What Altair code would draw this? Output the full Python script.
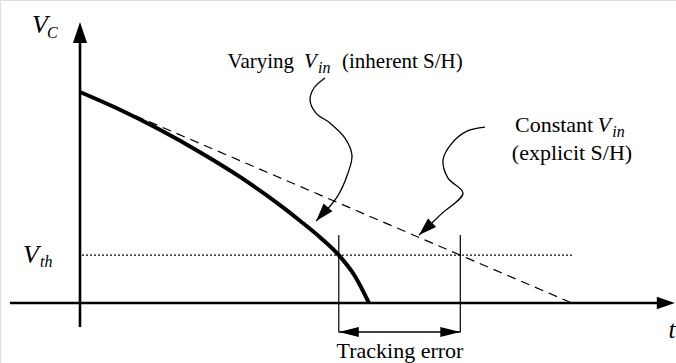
import math
import altair as alt
import pandas as pd

# ---- diagram values (time t in ramp units, capacitor voltage V normalised to V0) ----
T_MIN, T_MAX = -1.626, 12.114
V_MIN, V_MAX = -0.284, 1.436
W, H = 676, 363

V0 = 1.0          # starting capacitor voltage
T_END = 10.0      # constant-input ramp reaches zero here
V_TH = 0.227      # comparator threshold

# constant input: straight ramp
ramp_t = [0.0, T_END]
ramp_v = [V0, 0.0]

# varying input: discharge accelerates
curve_t = [0.0, 0.813, 1.626, 2.439, 3.252, 4.065, 4.472, 4.878, 5.264, 5.589, 5.874]
curve_v = [1.000, 0.916, 0.821, 0.715, 0.598, 0.464, 0.390, 0.312, 0.226, 0.127, 0.0]

# threshold crossing times
t_cross_varying = 5.26
t_cross_const = T_END * (1 - V_TH / V0)

# axes extents
xaxis_t = [-1.423, 11.95]
yaxis_v = [-0.114, 1.25]
xaxis_tip = (12.09, 0.0)
yaxis_tip = (0.0, 1.332)

# threshold line extent
vth_t = [0.04, 10.02]

# tracking-error markers
track_v = [0.322, -0.137]
track_arrow_v = -0.137

# curly pointer to the varying-input curve
arrow1_t = [4.98, 4.756, 4.675, 4.797, 5.081, 5.386, 5.528, 5.447, 5.224, 4.80]
arrow1_v = [1.066, 1.019, 0.962, 0.900, 0.853, 0.782, 0.701, 0.616, 0.502, 0.389]

# curly pointer to the constant-input ramp
arrow2_t = [8.232, 7.866, 7.561, 7.378, 7.480, 7.785, 7.34, 6.89]
arrow2_v = [0.834, 0.815, 0.758, 0.678, 0.592, 0.521, 0.4215, 0.322]

PX_T = W / (T_MAX - T_MIN)
PX_V = H / (V_MAX - V_MIN)

xs = alt.Scale(domain=[T_MIN, T_MAX], nice=False, zero=False)
ys = alt.Scale(domain=[V_MIN, V_MAX], nice=False, zero=False)

HEAD = "M0,0 L-2,-0.7 L-2,0.7 Z"
HEAD_NARROW = "M0,0 L-2,-0.5 L-2,0.5 Z"

SERIF = "'Liberation Serif', 'Times New Roman', serif"


def enc(**kw):
    return dict(
        x=alt.X("t:Q", scale=xs, axis=None),
        y=alt.Y("v:Q", scale=ys, axis=None),
        **kw,
    )


def line(ts, vs, width, dash=None, interp="linear"):
    df = pd.DataFrame({"t": ts, "v": vs, "i": list(range(len(ts)))})
    props = dict(color="black", strokeWidth=width, interpolate=interp, strokeCap="butt")
    if dash:
        props["strokeDash"] = dash
    return alt.Chart(df).mark_line(**props).encode(**enc(order="i:Q"))


def head(t, v, angle, length, shape=HEAD):
    df = pd.DataFrame({"t": [t], "v": [v]})
    return alt.Chart(df).mark_point(
        shape=shape, filled=True, color="black", opacity=1, strokeWidth=0,
        size=length * length, angle=angle % 360,
    ).encode(**enc())


def direction(t0, v0, t1, v1):
    dx = (t1 - t0) * PX_T
    dy = -(v1 - v0) * PX_V
    return math.degrees(math.atan2(dy, dx))


def label(t, v, text, size, italic=False, align="left"):
    df = pd.DataFrame({"t": [t], "v": [v], "s": [text]})
    props = dict(font=SERIF, fontSize=size, align=align, baseline="alphabetic", color="black")
    if italic:
        props["fontStyle"] = "italic"
    return alt.Chart(df).mark_text(**props).encode(**enc(text="s:N"))


layers = [
    # axes with arrowheads
    line(xaxis_t, [0, 0], 2.6),
    line([0, 0], yaxis_v, 2.6),
    head(xaxis_tip[0], xaxis_tip[1], 0, 18),
    head(yaxis_tip[0], yaxis_tip[1], -90, 21, shape="M0,0 L-2,-0.67 L-2,0.67 Z"),
    # threshold
    line(vth_t, [V_TH, V_TH], 1.2, dash=[2, 2]),
    # constant-input ramp and varying-input discharge
    line(ramp_t, ramp_v, 1.2, dash=[9, 6]),
    line(curve_t, curve_v, 4, interp="monotone"),
    # tracking-error bracket
    line([t_cross_varying] * 2, track_v, 1.2),
    line([t_cross_const] * 2, track_v, 1.2),
    line([t_cross_varying, t_cross_const], [track_arrow_v] * 2, 1.4),
    head(t_cross_varying, track_arrow_v, 180, 20, shape=HEAD_NARROW),
    head(t_cross_const, track_arrow_v, 0, 20, shape=HEAD_NARROW),
    # curly pointers
    line(arrow1_t, arrow1_v, 1.3, interp="catmull-rom"),
    head(arrow1_t[-1], arrow1_v[-1],
         direction(arrow1_t[-2], arrow1_v[-2], arrow1_t[-1], arrow1_v[-1]), 18,
         shape="M0,0 L-2,-0.65 L-2,0.65 Z"),
    line(arrow2_t, arrow2_v, 1.3, interp="catmull-rom"),
    head(arrow2_t[-1], arrow2_v[-1],
         direction(arrow2_t[-2], arrow2_v[-2], arrow2_t[-1], arrow2_v[-1]), 18,
         shape="M0,0 L-2,-0.65 L-2,0.65 Z"),
    # axis labels
    label(-0.976, 1.280, "V", 26, italic=True),
    label(-0.671, 1.256, "C", 16, italic=True),
    label(-1.159, 0.190, "V", 26, italic=True),
    label(-0.813, 0.171, "th", 16, italic=True),
    label(12.03, -0.166, "t", 25, italic=True, align="center"),
    # curve annotations
    label(3.000, 1.114, "Varying", 21),
    label(4.553, 1.114, "V", 21, italic=True),
    label(4.837, 1.092, "in", 16, italic=True),
    label(5.325, 1.114, "(inherent S/H)", 21),
    label(8.841, 0.810, "Constant", 22),
    label(10.52, 0.810, "V", 22, italic=True),
    label(10.82, 0.787, "in", 16, italic=True),
    label(10.00, 0.678, "(explicit S/H)", 22, align="center"),
    label(6.504, -0.261, "Tracking error", 22, align="center"),
]

chart = alt.layer(*layers).properties(
    width=W, height=H, autosize=alt.AutoSizeParams(type="none"), padding=0,
).configure_view(stroke=None).configure(background="white")

chart.save("out.html", embed_options={"renderer": "svg", "actions": False})
